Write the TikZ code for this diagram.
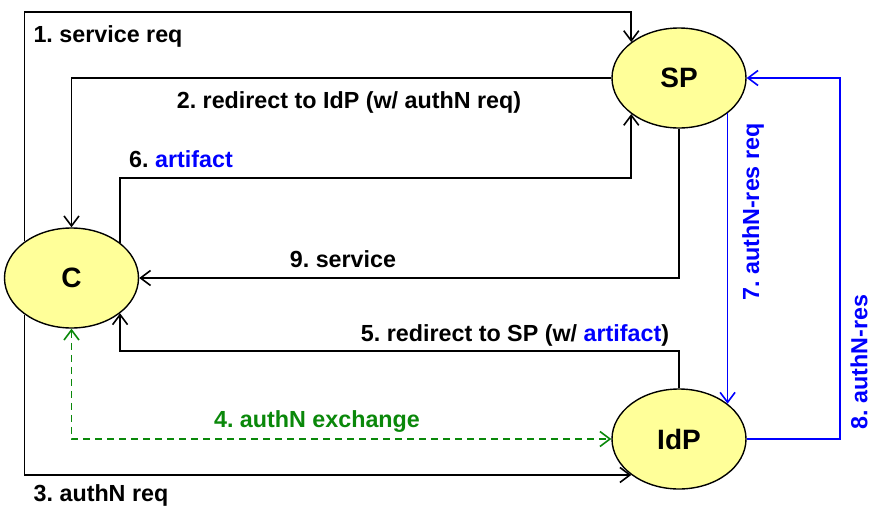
\documentclass[tikz,border=0pt]{standalone}
\usepackage{fontspec}
\setmainfont{Liberation Sans}
\usetikzlibrary{shapes.geometric,arrows.meta}
\definecolor{nodefill}{HTML}{FFFF99}
\definecolor{msgblue}{HTML}{0000FF}
\definecolor{msggreen}{HTML}{0A880A}
\frenchspacing
\begin{document}
\begin{tikzpicture}[x=1pt,y=-1pt,
  party/.style={ellipse, draw, line width=1.4pt, fill=nodefill, minimum width=134pt, minimum height=100pt, inner sep=0pt, font=\fontsize{28}{32}\selectfont\bfseries},
  tip/.tip={Straight Barb[length=10pt,width=15pt]},
  msg/.style={line width=1.6pt, -tip},
  lbl/.style={font=\fontsize{23.3}{27}\selectfont\bfseries, inner sep=0pt},
]
\useasboundingbox (0,0) rectangle (876,512);
\node[party] (SP) at (679,78) {SP};
\node[party] (C) at (71.5,278) {C};
\node[party] (IdP) at (679,439) {IdP};

\coordinate (t1) at (0,12);
\coordinate (r6) at (0,178);
\coordinate (r5) at (0,351);
\coordinate (r8) at (840,0);

% 1
\draw[msg] (C.142) -- (C.142 |- t1) -| (SP.143);
% 2
\draw[msg] (SP.west) -| (C.north);
% 3
\draw[msg] (C.218) |- (IdP.217);
% 4
\draw[msg, msggreen, dash pattern=on 7pt off 5pt, tip-tip] (C.south) |- (IdP.west);
% 5
\draw[msg] (IdP.north) -- (IdP.north |- r5) -| (C.-36);
% 6
\draw[msg] (C.36) -- (C.36 |- r6) -| (SP.217);
% 7
\draw[msg, msgblue] (SP.-36) -- (IdP.36);
% 8
\draw[msg, msgblue] (IdP.east) -- (IdP.east -| r8) -- (SP.east -| r8) -- (SP.east);
% 9
\draw[msg] (SP.south) |- (C.east);

\node[lbl] (l1) at (108,36) {1. service req};
\node[lbl] (l2) at (349,102) {2. redirect to IdP (w/ authN req)};
\node[lbl] (l3) at (101,495) {3. authN req};
\node[lbl, text=msggreen] (l4) at (317,422) {4. authN exchange};
\node[lbl] (l5) at (515,335) {5. redirect to SP (w/ \textcolor{msgblue}{artifact})};
\node[lbl] (l6) at (181,159) {6. \textcolor{msgblue}{artifact}};
\node[lbl, text=msgblue, rotate=90] (l7) at (753,212) {7. authN-res req};
\node[lbl, text=msgblue, rotate=90] (l8) at (859,362) {8. authN-res};
\node[lbl] (l9) at (343,259) {9. service};
\end{tikzpicture}
\end{document}
